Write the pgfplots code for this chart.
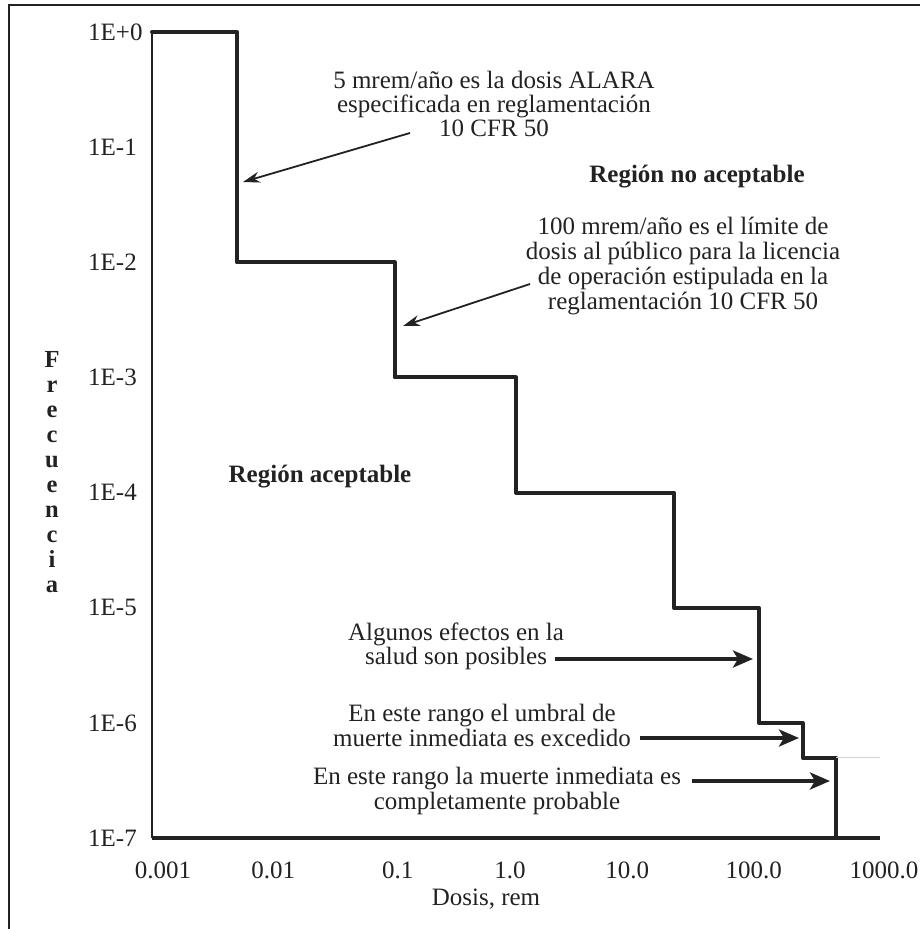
\documentclass[border=0pt]{standalone}
\usepackage{fontspec}
\setmainfont{Liberation Serif}
\usepackage{pgfplots}
\pgfplotsset{compat=1.18}
\usetikzlibrary{arrows.meta}
\definecolor{ink}{HTML}{222222}
\newcommand\fs{\fontsize{25bp}{26bp}\selectfont}
\begin{document}
\begin{tikzpicture}[x=1bp,y=1bp]
\useasboundingbox (0,0) rectangle (920,929);
\draw[ink, line width=2bp] (8.5,-5) -- (8.5,923.5) -- (925,923.5);
\begin{axis}[
  at={(152bp,91bp)}, anchor=south west,
  scale only axis, width=728bp, height=806bp,
  xmode=log, ymode=log,
  xmin=0.001, xmax=1000, ymin=1e-7, ymax=1,
  axis lines*=left,
  x axis line style={line width=4bp, ink},
  y axis line style={line width=2.7bp, ink},
  clip=false,
  xtick={0.001,0.01,0.1,1,10,100,1000},
  xticklabels={\hspace*{22bp}0.001,0.01,\hspace*{6bp}0.1,1.0\hspace*{12bp},10.0\hspace*{20bp},100.0\hspace*{10bp},\hspace*{8bp}1000.0},
  ytick={1e-7,1e-6,1e-5,1e-4,1e-3,1e-2,1e-1,1},
  yticklabels={1E-7,1E-6,1E-5,1E-4,1E-3,1E-2,1E-1,1E+0},
  major tick length=0pt,
  minor tick length=0pt,
  tick style={draw=none},
  xticklabel style={font=\fs, text=ink, anchor=base, yshift=-40bp, inner sep=0pt},
  yticklabel style={font=\fs, text=ink, anchor=west, xshift=-64bp, inner sep=0pt},
]
\addplot[const plot, ink, line width=4bp, line join=round, line cap=round] coordinates {
  (0.001,1) (0.005,1e-2) (0.1,1e-3) (1,1e-4) (20,1e-5) (100,1e-6) (230,5e-7) (435,1e-7)
};
\addplot[gray!35, line width=0.8bp] coordinates {(435,5e-7) (1000,5e-7)};
\end{axis}
% annotations
\begin{scope}[every node/.style={font=\fs, text=ink, anchor=base, inner sep=0pt}]
\node at (494,929-89) {5 mrem/año es la dosis ALARA};
\node at (494,929-113) {especificada en reglamentación};
\node at (494,929-137) {10 CFR 50};
\node[font=\fs\bfseries] at (697,929-183) {Región no aceptable};
\node at (683,929-235) {100 mrem/año es el límite de};
\node at (683,929-260) {dosis al público para la licencia};
\node at (683,929-285) {de operación estipulada en la};
\node at (683,929-310) {reglamentación 10 CFR 50};
\node[font=\fs\bfseries] at (320,929-483) {Región aceptable};
\node at (456,929-641) {Algunos efectos en la};
\node at (456,929-665) {salud son posibles};
\node at (482,929-722) {En este rango el umbral de};
\node at (482,929-747) {muerte inmediata es excedido};
\node at (497,929-785) {En este rango la muerte inmediata es};
\node at (497,929-810) {completamente probable};
\node at (486,929-906) {Dosis, rem};
\end{scope}
\node[font=\fontsize{24.5bp}{25bp}\selectfont\bfseries, text=ink, align=center, inner sep=0pt] at (52,457)
  {F\\r\\e\\c\\u\\e\\n\\c\\i\\a};
\draw[ink, line width=1.8bp, -{Stealth[length=17bp,width=11bp]}] (410,929-133) -- (243,929-182);
\draw[ink, line width=1.8bp, -{Stealth[length=17bp,width=11bp]}] (530,929-284) -- (403,929-326);
\draw[ink, line width=4bp, -{Stealth[length=20bp,width=17bp,inset=5bp]}] (555,929-659) -- (753,929-659);
\draw[ink, line width=4bp, -{Stealth[length=20bp,width=17bp,inset=5bp]}] (640,929-738) -- (799,929-738);
\draw[ink, line width=4bp, -{Stealth[length=20bp,width=17bp,inset=5bp]}] (692,929-781) -- (830,929-781);
\end{tikzpicture}
\end{document}
